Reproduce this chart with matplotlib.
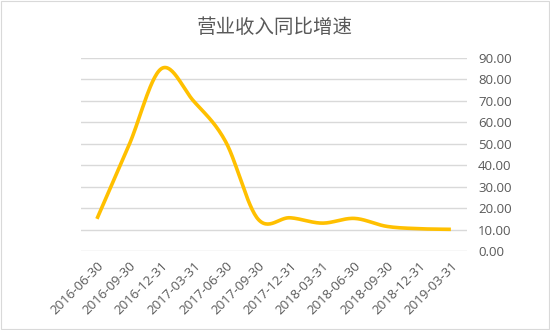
import matplotlib
import numpy as np

matplotlib.use("Agg")
import matplotlib.pyplot as plt
from matplotlib.patches import Rectangle

TITLE = "营业收入同比增速"
DATES = [
    "2016-06-30", "2016-09-30", "2016-12-31", "2017-03-31",
    "2017-06-30", "2017-09-30", "2017-12-31", "2018-03-31",
    "2018-06-30", "2018-09-30", "2018-12-31", "2019-03-31",
]
GROWTH = [15.0, 49.5, 85.0, 70.0, 51.0, 15.0, 15.5, 13.0, 15.2, 11.5, 10.4, 10.1]
Y_TICKS = [0, 10, 20, 30, 40, 50, 60, 70, 80, 90]


def smooth(xs, ys, steps=30):
    # Catmull-Rom style bezier through every point, like office chart smoothing
    xs = np.asarray(xs, float)
    ys = np.asarray(ys, float)
    px = np.concatenate([[xs[0]], xs, [xs[-1]]])
    py = np.concatenate([[ys[0]], ys, [ys[-1]]])
    out_x, out_y = [], []
    t = np.linspace(0, 1, steps)
    for i in range(1, len(px) - 2):
        p0 = np.array([px[i], py[i]])
        p3 = np.array([px[i + 1], py[i + 1]])
        c1 = p0 + (np.array([px[i + 1], py[i + 1]]) - np.array([px[i - 1], py[i - 1]])) / 6
        c2 = p3 - (np.array([px[i + 2], py[i + 2]]) - np.array([px[i], py[i]])) / 6
        b = ((1 - t) ** 3)[:, None] * p0 + (3 * (1 - t) ** 2 * t)[:, None] * c1 \
            + (3 * (1 - t) * t ** 2)[:, None] * c2 + (t ** 3)[:, None] * p3
        out_x.extend(b[:, 0])
        out_y.extend(b[:, 1])
    return out_x, out_y


fig = plt.figure(figsize=(5.5, 3.3), dpi=100)
fig.patches.append(Rectangle((0.002, 0.004), 0.996, 0.992, transform=fig.transFigure,
                             fill=False, edgecolor="#D9D9D9", linewidth=0.8))
ax = fig.add_axes([0.147, 0.2394, 0.702, 0.5848])

x = np.arange(len(DATES))
sx, sy = smooth(x, GROWTH)
ax.plot(sx, sy, color="#FFC000", linewidth=2.6, solid_capstyle="butt", zorder=3)

ax.set_xlim(-0.5, len(DATES) - 0.5)
ax.set_ylim(0, 90)
ax.set_yticks(Y_TICKS)
ax.set_yticklabels([f"{v:.2f}" for v in Y_TICKS])
ax.yaxis.tick_right()
ax.grid(axis="y", color="#D9D9D9", linewidth=1.0)
ax.set_axisbelow(True)
for side in ax.spines.values():
    side.set_visible(False)
ax.tick_params(axis="both", length=0, colors="#595959", labelsize=9.5)
ax.tick_params(axis="y", pad=8)
ax.set_xticks(x)
ax.set_xticklabels(DATES, rotation=45, ha="right", rotation_mode="anchor")
for lbl in ax.get_xticklabels() + ax.get_yticklabels():
    lbl.set_family(["Open Sans", "DejaVu Sans"])
ax.tick_params(axis="x", pad=6)

fig.text(0.5, 0.918, TITLE, ha="center", va="center", fontsize=14, color="#595959",
         family=["Noto Sans CJK SC", "DejaVu Sans"])

fig.savefig("out.png", dpi=100)
